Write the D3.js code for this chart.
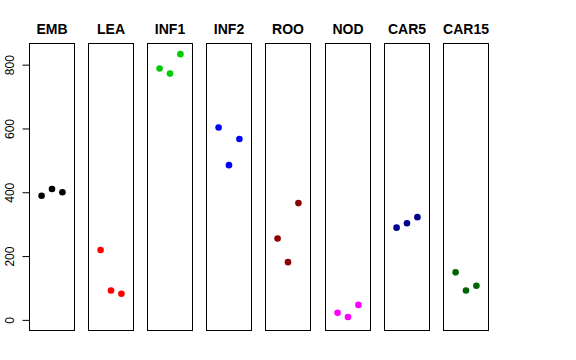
<!DOCTYPE html>
<html><head><meta charset="utf-8">
<script src="https://cdn.jsdelivr.net/npm/d3@7"></script>
<style>body{margin:0;background:#fff}svg{display:block}</style>
</head><body>
<svg id="c" width="576" height="360"></svg>
<script>
const categories = ["EMB","LEA","INF1","INF2","ROO","NOD","CAR5","CAR15"];
const colors = ["#000000","#FF0000","#00CD00","#0000FF","#8B0000","#FF00FF","#00008B","#006400"];
const replicates = [1,2,3];
const EMB = [389,410,400];
const LEA = [219,92,82];
const INF1 = [788,772,833];
const INF2 = [603,485,567];
const ROO = [255,181,366];
const NOD = [22,9,47];
const CAR5 = [289,303,322];
const CAR15 = [149,92,107];
const series = [EMB,LEA,INF1,INF2,ROO,NOD,CAR5,CAR15];
const yTicks = [0,200,400,600,800];

const svg = d3.select("#c");
const plotTop = 43.5, plotBottom = 330.5;
const left0 = 28.5, panelW = 44.5, step = 59.2;

const ymax = d3.max(series.flat());
const pad = ymax*0.04;
const y = d3.scaleLinear().domain([0 - pad, ymax + pad]).range([plotBottom, plotTop]);

categories.forEach((cat,i)=>{
  const x0 = Math.round(left0 + i*step) + 0.5;
  const x1 = x0 + Math.round(panelW);
  const x = d3.scaleLinear().domain([-0.16, 4.16]).range([x0, x1]);
  const g = svg.append("g");
  g.append("rect").attr("x",x0).attr("y",plotTop).attr("width",x1-x0).attr("height",plotBottom-plotTop)
    .attr("fill","none").attr("stroke","#000").attr("stroke-width",1);
  g.append("text").attr("x",(x0+x1)/2).attr("y",34).attr("text-anchor","middle")
    .attr("font-family","Liberation Sans, Arial, sans-serif").attr("font-weight","bold")
    .attr("font-size",14).text(cat);
  g.selectAll("circle").data(series[i]).join("circle")
    .attr("cx",(d,j)=>x(replicates[j])).attr("cy",d=>y(d)).attr("r",3.3)
    .attr("fill",colors[i]);
  if(i===0){
    const ax = d3.axisLeft(y).tickValues(yTicks).tickSize(7).tickPadding(4).tickFormat(d3.format("d"));
    const ag = g.append("g").attr("transform",`translate(${x0},0)`).call(ax);
    ag.select(".domain").remove();
    ag.selectAll(".tick line").attr("stroke","#000");
    ag.selectAll(".tick text")
      .attr("font-family","Liberation Sans, Arial, sans-serif").attr("font-size",12).attr("fill","#000")
      .attr("text-anchor","middle").attr("dy",0).attr("x",0)
      .attr("transform","translate(-15.5,0) rotate(-90)");
  }
});
</script>
</body></html>
